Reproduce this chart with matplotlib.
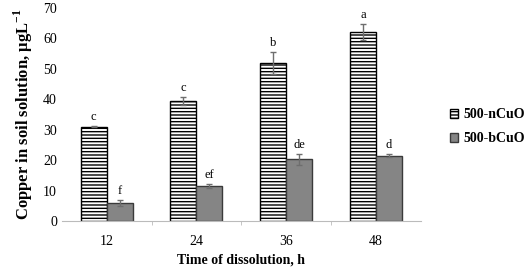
import matplotlib.pyplot as plt
import numpy as np

# data
hours = ["12", "24", "36", "48"]
nano = [31.0, 39.4, 51.7, 62.0]
nano_err = [0.3, 1.4, 3.6, 2.6]
bulk = [6.0, 11.6, 20.2, 21.5]
bulk_err = [1.0, 0.7, 1.8, 0.6]
nano_letters = ["c", "c", "b", "a"]
bulk_letters = ["f", "ef", "de", "d"]

plt.rcParams['font.family'] = ['Liberation Serif', 'DejaVu Serif']
plt.rcParams['hatch.linewidth'] = 1.0

fig = plt.figure(figsize=(5.24, 2.70), dpi=100)
ax = fig.add_axes([0.118, 0.181, 0.685, 0.791])

x = np.arange(len(hours))
w = 0.29
ekw = dict(ecolor="#6e6e6e", elinewidth=1.0, capsize=2.5, capthick=1.0)

ax.bar(x - w/2, nano, w, yerr=nano_err, color="white", edgecolor="black",
       hatch="-----", linewidth=1.0, error_kw=ekw, label="500-nCuO")
ax.bar(x + w/2, bulk, w, yerr=bulk_err, color="#858585", edgecolor="#3a3a3a",
       linewidth=1.0, error_kw=ekw, label="500-bCuO")

for i in range(len(hours)):
    ax.text(x[i] - w/2, nano[i] + nano_err[i] + 1.0, nano_letters[i],
            ha="center", va="bottom", fontsize=9)
    ax.text(x[i] + w/2, bulk[i] + bulk_err[i] + 1.0, bulk_letters[i],
            ha="center", va="bottom", fontsize=9)

ax.set_ylim(0, 70)
ax.set_yticks(range(0, 71, 10))
ax.set_xlim(-0.5, 3.5)
ax.set_xticks(x)
ax.set_xticklabels(hours)
ax.set_xticks([0.5, 1.5, 2.5], minor=True)
ax.tick_params(axis="both", which="major", length=0, labelsize=10)
ax.tick_params(axis="x", which="major", pad=10)
ax.tick_params(axis="x", which="minor", length=3, color="#bbbbbb")

for s in ["top", "right", "left"]:
    ax.spines[s].set_visible(False)
ax.spines["bottom"].set_color("#bbbbbb")

ax.set_ylabel("Copper in soil solution, μgL$^{\\mathregular{-1}}$",
              fontsize=12, fontweight="bold", labelpad=6)
ax.set_xlabel("Time of dissolution, h", fontsize=10, fontweight="bold", labelpad=4)

ax.legend(loc="center left", bbox_to_anchor=(0.835, 0.53),
          bbox_transform=fig.transFigure, frameon=False,
          prop={"weight": "bold", "size": 10}, handlelength=0.55,
          handleheight=0.55, handletextpad=0.4, labelspacing=0.8)

fig.savefig("out.png", dpi=100)
